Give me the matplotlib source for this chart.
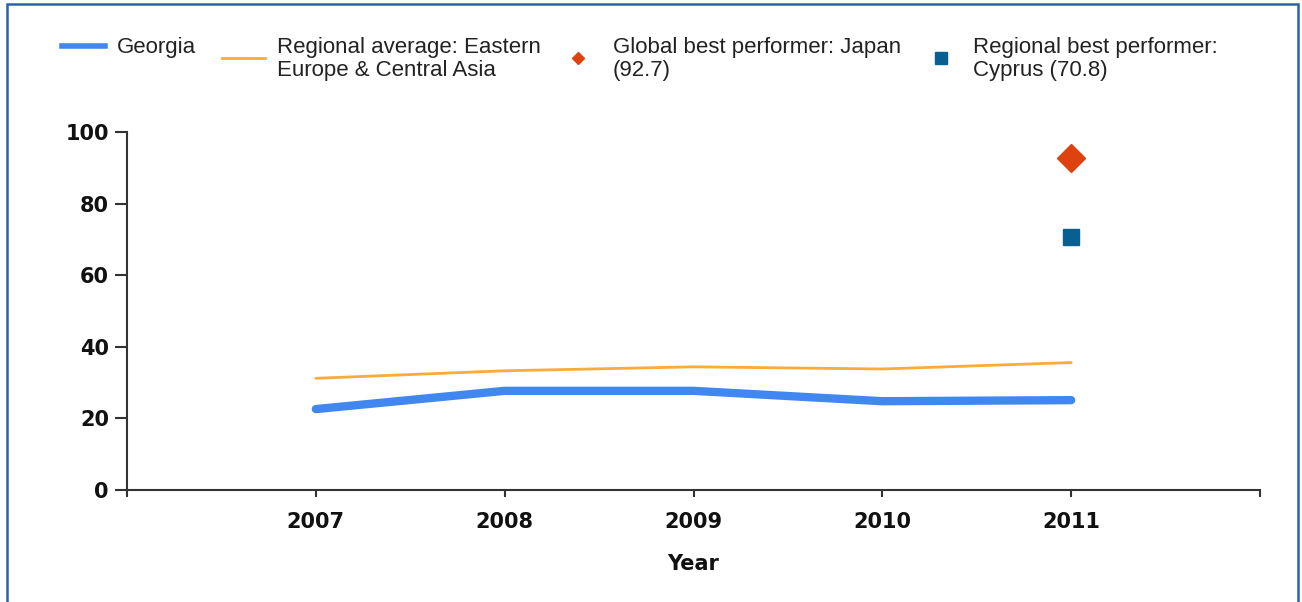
import matplotlib
matplotlib.use("Agg")
import matplotlib.pyplot as plt
from matplotlib.lines import Line2D
from matplotlib.patches import Rectangle

years = [2007, 2008, 2009, 2010, 2011]
georgia = [22.6, 27.7, 27.7, 24.8, 25.1]
regional_avg = [31.2, 33.3, 34.4, 33.8, 35.6]
global_best_year = [2011]
global_best = [92.7]
regional_best_year = [2011]
regional_best = [70.8]
labels = ["Georgia", "Regional average: Eastern\nEurope & Central Asia",
          "Global best performer: Japan\n(92.7)", "Regional best performer:\nCyprus (70.8)"]
xtick_vals = [2006, 2007, 2008, 2009, 2010, 2011, 2012]
xtick_labels = ["", "2007", "2008", "2009", "2010", "2011", ""]
ytick_vals = [0, 20, 40, 60, 80, 100]

c_blue = "#4088f0"
c_orange = "#fbab38"
c_red = "#de420e"
c_teal = "#07608f"

W, H = 1302, 602
fig = plt.figure(figsize=(W / 100, H / 100), dpi=100)
ax = fig.add_axes([127 / W, (H - 490) / H, (1260 - 127) / W, (490 - 132) / H])

ax.plot(years, regional_avg, color=c_orange, lw=2.0, solid_capstyle="round", zorder=2)
ax.plot(years, georgia, color=c_blue, lw=6.0, solid_capstyle="round", zorder=3)
ax.plot(global_best_year, global_best, ls="none", marker="D", ms=14, color=c_red, zorder=4)
ax.plot(regional_best_year, regional_best, ls="none", marker="s", ms=11, color=c_teal, zorder=4)

ax.set_xlim(2006, 2012)
ax.set_ylim(0, 100)
ax.set_xticks(xtick_vals)
ax.set_xticklabels(xtick_labels)
ax.set_yticks(ytick_vals)
for s in ["top", "right"]:
    ax.spines[s].set_visible(False)
for s in ["left", "bottom"]:
    ax.spines[s].set_color("#333333")
    ax.spines[s].set_linewidth(1.5)
ax.tick_params(axis="y", direction="out", length=9, width=1.5, color="#333333", pad=4)
ax.tick_params(axis="x", direction="out", length=5, width=1.5, color="#333333", pad=11)
for lab in ax.get_xticklabels() + ax.get_yticklabels():
    lab.set_fontweight("bold")
    lab.set_fontsize(15)
    lab.set_color("#111111")
    lab.set_family("DejaVu Sans")
ax.set_xlabel("Year", fontsize=15, fontweight="bold", color="#111111", labelpad=16)

# legend drawn manually in figure pixel coordinates
def fx(x):
    return x / W

def fy(y):
    return 1 - y / H

lf = dict(fontsize=16, family="Liberation Sans", color="#222222", va="center", ha="left",
          linespacing=1.12)
fig.add_artist(Line2D([fx(62), fx(105)], [fy(46), fy(46)], color=c_blue, lw=4.0))
fig.text(fx(117), fy(47), labels[0], **lf)
fig.add_artist(Line2D([fx(222), fx(265)], [fy(58), fy(58)], color=c_orange, lw=2.0))
fig.text(fx(277), fy(59), labels[1], **lf)
fig.add_artist(Line2D([fx(578)], [fy(58)], ls="none", marker="D", ms=6.5, color=c_red))
fig.text(fx(613), fy(59), labels[2], **lf)
fig.add_artist(Line2D([fx(941)], [fy(58)], ls="none", marker="s", ms=8, color=c_teal))
fig.text(fx(973), fy(59), labels[3], **lf)

# outer frame
fig.patches.append(Rectangle((fx(7), fy(620)), fx(1298 - 7), (620 - 4) / H, transform=fig.transFigure,
                             fill=False, edgecolor="#2a62a8", lw=1.8))

fig.savefig("out.png", dpi=100, facecolor="white")
